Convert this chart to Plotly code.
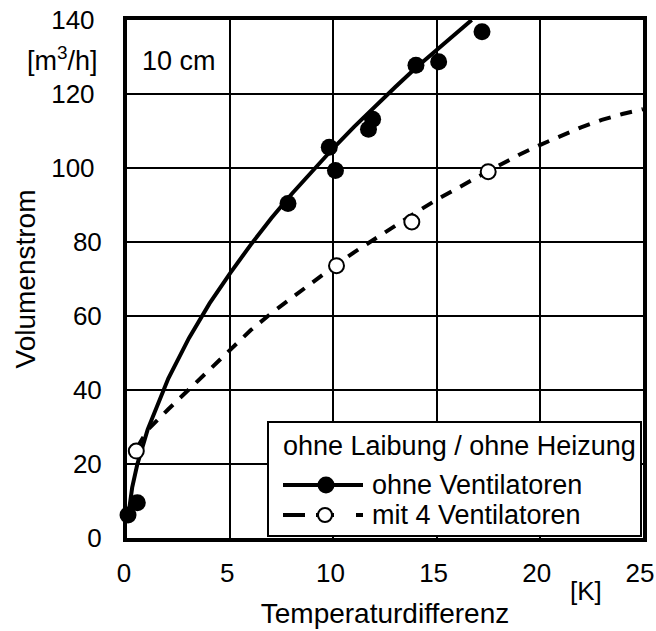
import plotly.graph_objects as go

# ---- data ----
# measured points, "ohne Ventilatoren" (filled circles)
ohne_x = [0.05, 0.5, 7.8, 9.8, 10.1, 11.7, 11.9, 14.0, 15.1, 17.2]
ohne_y = [6.2, 9.5, 90.4, 105.6, 99.3, 110.5, 113.2, 127.8, 128.7, 136.8]

# measured points, "mit 4 Ventilatoren" (open circles)
mit_x = [0.45, 10.15, 13.8, 17.5]
mit_y = [23.5, 73.6, 85.4, 99.0]

# fitted curve (solid)
fit_ohne_x = [0.05, 0.25, 0.5, 1, 2, 3, 4, 5, 6, 7, 8, 9, 10, 11, 12, 13, 14, 15, 16, 16.7]
fit_ohne_y = [5.5, 13.6, 19.9, 29.3, 43.1, 54.0, 63.4, 71.6, 79.3, 86.5, 93.1, 99.4,
              105.4, 111.1, 116.6, 121.9, 127.1, 132.0, 136.9, 140.0]

# fitted curve (dashed)
fit_mit_x = [0.5, 1, 2, 3, 4, 5, 6, 7, 8, 9, 10, 11, 12, 13, 14, 15, 16, 17, 18, 19, 20,
             21, 22, 23, 24, 25]
fit_mit_y = [24.5, 29.2, 34.8, 40.2, 45.4, 51.0, 56.2, 60.8, 65.0, 69.3, 73.3, 77.2, 80.9,
             84.4, 88.0, 91.4, 94.6, 97.6, 100.6, 103.6, 106.2, 108.6, 111.0, 113.0, 114.6, 115.9]

x_ticks = [0, 5, 10, 15, 20, 25]
y_ticks = [0, 20, 40, 60, 80, 100, 120, 140]

legend_title = "ohne Laibung / ohne Heizung"
name_ohne = "ohne Ventilatoren"
name_mit = "mit 4 Ventilatoren"

FONT = "Liberation Sans, Arial, Helvetica, sans-serif"

# plot area in pixels
L, R, T, B = 127, 643, 20, 538
W, H = R - L, B - T


def px(xp):
    return (xp - L) / W


def py(yp):
    return (B - yp) / H


fig = go.Figure()

fig.add_trace(go.Scatter(x=fit_ohne_x, y=fit_ohne_y, mode="lines",
                         line=dict(color="black", width=4), name=name_ohne,
                         showlegend=False, hoverinfo="skip"))
fig.add_trace(go.Scatter(x=fit_mit_x, y=fit_mit_y, mode="lines",
                         line=dict(color="black", width=4, dash="12px,10px"), name=name_mit,
                         showlegend=False, hoverinfo="skip"))
fig.add_trace(go.Scatter(x=ohne_x, y=ohne_y, mode="markers", cliponaxis=False,
                         marker=dict(size=17, color="black", line=dict(width=0)),
                         showlegend=False, name=name_ohne))
fig.add_trace(go.Scatter(x=mit_x, y=mit_y, mode="markers", cliponaxis=False,
                         marker=dict(size=15, color="white", line=dict(width=2, color="black")),
                         showlegend=False, name=name_mit))

axis_common = dict(showgrid=True, gridcolor="black", gridwidth=2, showline=True,
                   linecolor="black", linewidth=4, mirror=True, ticks="outside",
                   tickcolor="rgba(0,0,0,0)", zeroline=False, automargin=False,
                   tickfont=dict(size=26, family=FONT, color="black"))

fig.update_xaxes(range=[0, 25], tickvals=x_ticks, ticktext=[str(v) for v in x_ticks],
                 ticklen=9, ticklabelshift=-3,
                 title=dict(text="Temperaturdifferenz", font=dict(size=28, family=FONT, color="black"),
                            standoff=17),
                 **axis_common)
fig.update_yaxes(range=[0, 140], tickvals=y_ticks,
                 ticktext=[(str(v) + "\u00a0") if v >= 100 else str(v) for v in y_ticks],
                 ticklen=16,
                 title=dict(text="Volumenstrom", font=dict(size=28, family=FONT, color="black"),
                            standoff=8),
                 **axis_common)

# ---- legend box (drawn as layout items so its symbols match the reference) ----
shapes = [
    dict(type="rect", xref="paper", yref="paper", x0=px(268), x1=px(641), y0=py(536), y1=py(422),
         fillcolor="white", line=dict(color="black", width=2), layer="above"),
    dict(type="line", xref="paper", yref="paper", x0=px(283), x1=px(363), y0=py(485), y1=py(485),
         line=dict(color="black", width=4), layer="above"),
    dict(type="circle", xref="paper", yref="paper", xsizemode="pixel", ysizemode="pixel",
         xanchor=px(326), yanchor=py(485), x0=-8.5, x1=8.5, y0=-8.5, y1=8.5,
         fillcolor="black", line=dict(color="black", width=0), layer="above"),
    dict(type="line", xref="paper", yref="paper", x0=px(283), x1=px(363), y0=py(515), y1=py(515),
         line=dict(color="black", width=4, dash="22px,11px,18px,22px"), layer="above"),
    dict(type="circle", xref="paper", yref="paper", xsizemode="pixel", ysizemode="pixel",
         xanchor=px(325), yanchor=py(515), x0=-7, x1=7, y0=-7, y1=7,
         fillcolor="white", line=dict(color="black", width=2), layer="above"),
]

annotations = [
    dict(text=legend_title, x=px(281), y=py(446), xref="paper", yref="paper",
         xanchor="left", yanchor="middle", showarrow=False,
         font=dict(size=27, family=FONT, color="black")),
    dict(text=name_ohne, x=px(370), y=py(485), xref="paper", yref="paper",
         xanchor="left", yanchor="middle", showarrow=False,
         font=dict(size=27, family=FONT, color="black")),
    dict(text=name_mit, x=px(370), y=py(515), xref="paper", yref="paper",
         xanchor="left", yanchor="middle", showarrow=False,
         font=dict(size=27, family=FONT, color="black")),
    dict(text="10 cm", x=px(140), y=py(61), xref="paper", yref="paper",
         xanchor="left", yanchor="middle", showarrow=False,
         font=dict(size=27, family=FONT, color="black")),
    dict(text="[m<sup>3</sup>/h]", x=px(100), y=py(59), xref="paper",
         yref="paper", xanchor="right", yanchor="middle", showarrow=False,
         font=dict(size=27, family=FONT, color="black")),
    dict(text="[K]", x=px(586), y=py(591), xref="paper", yref="paper",
         xanchor="center", yanchor="middle", showarrow=False,
         font=dict(size=26, family=FONT, color="black")),
]

fig.update_layout(
    width=656, height=631,
    margin=dict(l=L, r=656 - R, t=T, b=631 - B),
    paper_bgcolor="white", plot_bgcolor="white",
    font=dict(family=FONT, color="black"),
    showlegend=False,
    shapes=shapes,
    annotations=annotations,
)

fig.write_html("out.html",
               config={"displayModeBar": False},
               post_script="document.body.style.margin='0px';"
                           "document.body.style.overflow='hidden';")
